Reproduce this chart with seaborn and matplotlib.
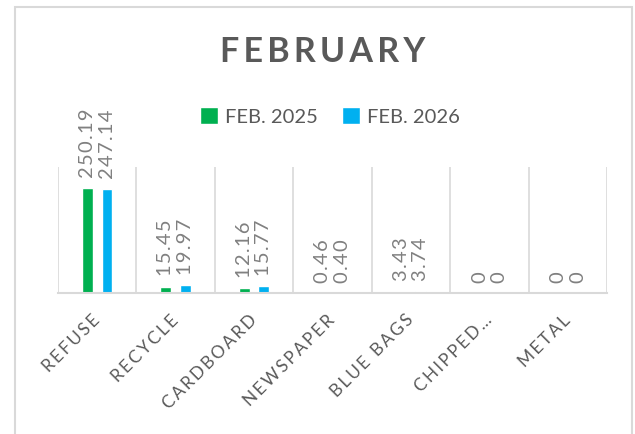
import pandas as pd
import matplotlib
matplotlib.use("Agg")
import matplotlib.pyplot as plt
import seaborn as sns
from matplotlib.patches import Rectangle, Patch

# --- Chart data ---
CATEGORIAS = ['REFUSE', 'RECYCLE', 'CARDBOARD', 'NEWSPAPER', 'BLUE BAGS', 'CHIPPED…', 'METAL']
FEB_2025 = [250.19, 15.45, 12.16, 0.46, 3.43, 0, 0]
FEB_2026 = [247.14, 19.97, 15.77, 0.40, 3.74, 0, 0]
SERIES = ['FEB. 2025', 'FEB. 2026']

CORES = {'FEB. 2025': '#00b050', 'FEB. 2026': '#00b0f0'}
TXT = '#595959'
GRID = '#d9d9d9'


def espacar(s, sep='\u2009'):
    # mimic the letter spacing of the original (Excel) chart
    return sep.join(s)


df = pd.DataFrame({
    'categoria': CATEGORIAS * 2,
    'valor': FEB_2025 + FEB_2026,
    'serie': [SERIES[0]] * len(CATEGORIAS) + [SERIES[1]] * len(CATEGORIAS),
})

sns.set_theme(style="white")
plt.rcParams['font.family'] = ['Lato', 'DejaVu Sans']

fig = plt.figure(figsize=(6.35, 4.35), dpi=100)
ax = fig.add_axes([58 / 635, 1 - 294 / 435, (607 - 58) / 635, (294 - 168) / 435])

sns.barplot(data=df, x='categoria', y='valor', hue='serie', palette=CORES,
            width=0.5, gap=0.45, ax=ax, legend=False, saturation=1)

ax.set_ylim(0, 300)
ax.set_xlim(-0.5, len(CATEGORIAS) - 0.5)
ax.set_xlabel('')
ax.set_ylabel('')
ax.set_yticks([])

# category separators
ax.set_xticks([i - 0.5 for i in range(len(CATEGORIAS) + 1)], minor=True)
ax.grid(True, which='minor', axis='x', color=GRID, linewidth=1.2)
ax.tick_params(axis='x', which='both', length=0)
ax.tick_params(axis='x', which='major', pad=17, labelsize=12.5, labelcolor=TXT)
ax.set_xticks(range(len(CATEGORIAS)), [espacar(c) for c in CATEGORIAS])
plt.setp(ax.get_xticklabels(), rotation=45, ha='right', va='center', rotation_mode='anchor')

for s in ['top', 'right', 'left']:
    ax.spines[s].set_visible(False)
ax.spines['bottom'].set_color(GRID)
ax.spines['bottom'].set_linewidth(1.5)

# value labels
for cont, vals in zip(ax.containers, [FEB_2025, FEB_2026]):
    labels = [espacar(f"{v:.2f}", '\u200a') if v else "0" for v in vals]
    ax.bar_label(cont, labels=labels, rotation=90, padding=8, fontsize=14.5,
                 color='#808080')

# legend
handles = [Patch(facecolor=CORES[s], label=s) for s in SERIES]
fig.legend(handles=handles, loc='center', bbox_to_anchor=(330 / 635, 1 - 117 / 435),
           ncol=2, frameon=False, fontsize=14.5, labelcolor=TXT,
           handlelength=0.9, handleheight=0.9, handletextpad=0.35, columnspacing=1.2)

fig.text(323 / 635, 1 - 52 / 435, espacar('FEBRUARY'), ha='center', va='center',
         fontsize=24.5, fontweight='bold', color=TXT)

# chart border
fig.patches.append(Rectangle((15 / 635, -0.1), (632 - 15) / 635, 1.1 - 8 / 435,
                             transform=fig.transFigure, fill=False, edgecolor=GRID,
                             linewidth=1.5, clip_on=False))

fig.savefig('out.png', dpi=100, facecolor='white')
